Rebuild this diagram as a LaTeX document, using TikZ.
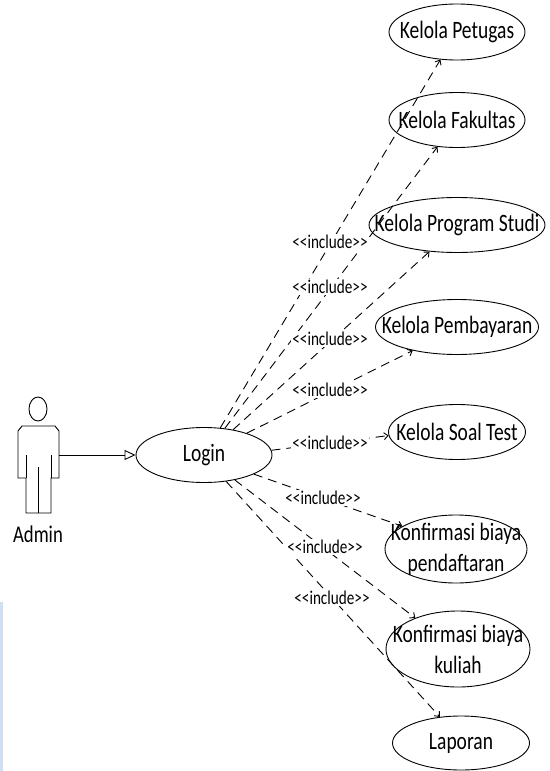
\documentclass[tikz,border=0pt]{standalone}
\usepackage{fontspec}
\setmainfont[FakeStretch=0.78]{Carlito}
\usetikzlibrary{arrows.meta,shapes.geometric}

\definecolor{tepi}{RGB}{205,225,243}

\tikzset{
    usecase/.style={draw, ellipse, inner sep=0pt},
    every label/.style={font=\fontsize{25}{31}\selectfont, align=center, inner sep=0pt},
    includeline/.style={dash pattern=on 9pt off 6pt, -{Straight Barb[length=4pt,width=7pt]}},
    includelabel/.style={fill=white, inner sep=1pt, font=\fontsize{19.5}{19.5}\selectfont},
}

\begin{document}
\begin{tikzpicture}[x=1pt,y=-1pt,line width=0.9pt]
    \useasboundingbox (0,0) rectangle (549,771);
    \fill[tepi] (0,602) rectangle (3,771);

    % use cases
    \node[usecase, minimum width=136pt, minimum height=55pt, label={center:Login}] (login) at (204,455) {};
    \node[usecase, minimum width=136pt, minimum height=56pt, label={center:Kelola Petugas}] (petugas) at (457,32) {};
    \node[usecase, minimum width=136pt, minimum height=55pt, label={center:Kelola Fakultas}] (fakultas) at (457,120) {};
    \node[usecase, minimum width=176pt, minimum height=55pt, label={center:Kelola Program Studi}] (prodi) at (457,225) {};
    \node[usecase, minimum width=163pt, minimum height=55pt, label={center:Kelola Pembayaran}] (bayar) at (457,327) {};
    \node[usecase, minimum width=137pt, minimum height=55pt, label={center:Kelola Soal Test}] (soal) at (457,432) {};
    \node[usecase, minimum width=142pt, minimum height=68pt, label={center:Konfirmasi biaya\\pendaftaran}] (daftar) at (456,549) {};
    \node[usecase, minimum width=144pt, minimum height=76pt, label={center:Konfirmasi biaya\\kuliah}] (kuliah) at (458,649) {};
    \node[usecase, minimum width=137pt, minimum height=54pt, label={center:Laporan}] (laporan) at (461,743) {};

    % actor
    \node[draw, ellipse, inner sep=0pt, minimum width=18pt, minimum height=24pt] (kepala) at (38,409) {};
    \draw (26,513) -- (26,478) -- (18,478) -- (18,431) -- (22,426) -- (55,426) -- (59,431) -- (59,478) -- (51,478) -- (51,513) -- cycle;
    \draw (26,455) -- (26,478);
    \draw (51,455) -- (51,478);
    \draw (38,467) -- (38,513);
    \node[font=\fontsize{24}{24}\selectfont] (admin) at (38,534) {Admin};
    \coordinate (tangan) at (59,455);

    \draw[-{Triangle[open,length=11pt,width=10pt]}] (tangan) -- (login.west);

    % include
    \draw[includeline] (login.59) -- (petugas.239);
    \draw[includeline] (login.52) -- (fakultas.234);
    \draw[includeline] (login.41) -- (prodi.224);
    \draw[includeline] (login.27) -- (bayar.208);
    \draw[includeline] (login.4) -- (soal.183);
    \draw[includeline] (login.-21) -- (daftar.157);
    \draw[includeline] (login.-39) -- (kuliah.144);
    \draw[includeline] (login.-50) -- (laporan.129);

    \foreach \name/\i/\j in {a/330/242, b/330/287, c/330/339, d/330/390, e/330/443, f/323/498, g/325/547, h/332/598}{
        \node[includelabel] (label\name) at (\i,\j) {<{}<include>{}>};
    }
\end{tikzpicture}
\end{document}
